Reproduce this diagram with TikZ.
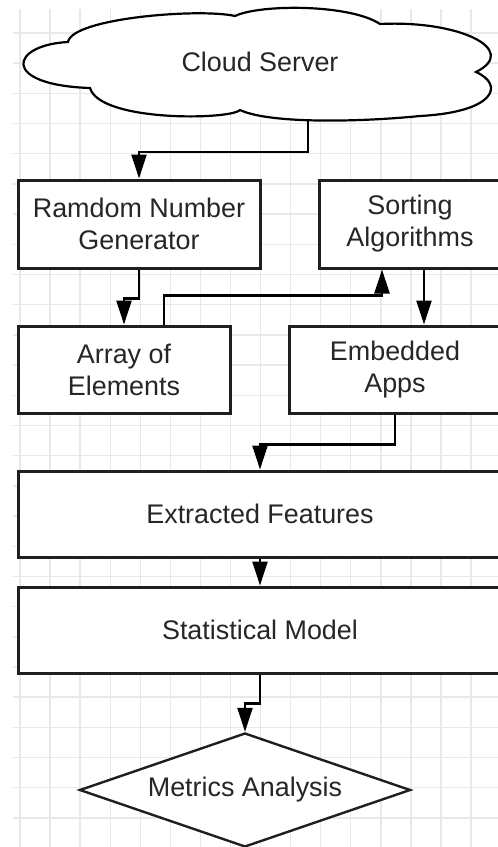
\documentclass[tikz,border=0pt]{standalone}
\usepackage{fontspec}
\setmainfont{Liberation Sans}
\usetikzlibrary{arrows.meta,shapes.geometric}

\begin{document}
\begin{tikzpicture}[x=1pt,y=-1pt,
    box/.style={draw=black!88,line width=3pt,fill=white,align=center,inner sep=0pt,
        text=black!85,font=\fontsize{26.9}{32}\selectfont},
    arr/.style={line width=2.4pt,-{Triangle[length=24pt,width=15pt]}}]
    \useasboundingbox (0,0) rectangle (498,847);
    \fill[white] (0,0) rectangle (498,847);
    % grid
    \foreach \k in {0,...,16} \draw[black!9,line width=1.4pt] (20+30.07*\k,9) -- (20+30.07*\k,847);
    \foreach \k in {0,...,26} \draw[black!9,line width=1.4pt] (13,33+30.19*\k) -- (498,33+30.19*\k);
    % cloud
    \draw[line width=2.2pt,fill=white] (68,42) .. controls (72,18) and (200,8) .. (235,16)
        .. controls (260,4) and (350,4) .. (380,24)
        .. controls (460,20) and (520,50) .. (476,72)
        .. controls (505,85) and (495,112) .. (420,116)
        .. controls (360,122) and (270,124) .. (240,110)
        .. controls (230,120) and (100,122) .. (90,88)
        .. controls (0,85) and (10,45) .. cycle;
    \node[text=black!85,font=\fontsize{26.9}{32}\selectfont] (cloud) at (260,62) {Cloud Server};
    \coordinate (cloudbot) at (308,121);
    % boxes
    \node[box,minimum width=242pt,minimum height=88pt] (rng) at (139,224) {Ramdom Number\\Generator};
    \node[box,minimum width=182pt,minimum height=88pt] (sorting) at (410,224) {Sorting\\Algorithms};
    \node[box,minimum width=212pt,minimum height=87pt] (array) at (124,369.5) {Array of\\Elements};
    \node[box,minimum width=212pt,minimum height=87pt] (embedded) at (395,369.5) {Embedded\\Apps};
    \node[box,minimum width=484pt,minimum height=86pt] (extracted) at (260,514) {Extracted Features};
    \node[box,minimum width=484pt,minimum height=86pt] (stat) at (260,630) {Statistical Model};
    \node[box,diamond,aspect=2.9,line width=2.4pt,minimum width=331pt,minimum height=114pt] (metrics) at (245,790) {Metrics Analysis};
    % connectors
    \draw[arr] (cloudbot) -- ++(0,31) -| (rng.north);
    \draw[arr] (rng.south) -- ++(0,29) -| (array.north);
    \draw[arr] ([xshift=40pt]array.north) -- ++(0,-29) -| ([xshift=-28pt]sorting.south);
    \draw[arr] ([xshift=14pt]sorting.south) -- ([xshift=14pt]sorting.south |- embedded.north);
    \draw[arr] (embedded.south) -- ++(0,30) -| (extracted.north);
    \draw[arr] (extracted.south) -- (stat.north);
    \draw[arr] (stat.south) -- ++(0,29) -| (metrics.north);
\end{tikzpicture}
\end{document}
